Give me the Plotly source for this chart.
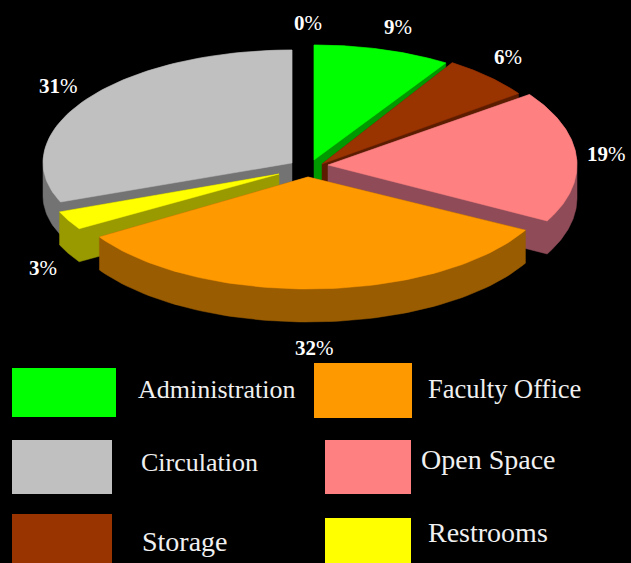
import numpy as np
import plotly.graph_objects as go

# Space-use shares, clockwise from twelve o'clock
categories = ["Administration", "Storage", "Open Space", "Faculty Office", "Restrooms", "Circulation"]
shares = [9, 6, 19, 32, 3, 31]

# Printed percentage labels, including the empty category at the top
label_texts = ["0", "9", "6", "19", "32", "3", "31"]
label_anchor = [(308, 23), (398, 27), (508, 57), (606, 154), (314, 348), (43, 268), (58, 86)]

# Face colour and wall colour per category
face = {"Administration": "#00ff00", "Storage": "#993300", "Open Space": "#ff8080",
        "Faculty Office": "#ff9900", "Restrooms": "#ffff00", "Circulation": "#c0c0c0"}
wall = {"Administration": "#009900", "Storage": "#5c1c00", "Open Space": "#8f4c58",
        "Faculty Office": "#995c00", "Restrooms": "#999900", "Circulation": "#737373"}

# Exploded slice placement: hub x, hub y, radius x, radius y far side, radius y near side
placement = {"Administration": (314, 160, 246, 115, 115),
             "Storage": (322, 164, 243, 120, 115),
             "Open Space": (328, 165, 249, 120, 118),
             "Faculty Office": (308, 177, 247, 120, 112),
             "Restrooms": (279, 174, 236, 118, 103),
             "Circulation": (292, 163, 249, 113, 106)}
WALL_DEPTH = 33
NEAR_SIDE_SQUEEZE = 4.5  # degrees of foreshortening on the near right quadrant of the disc
DRAW_ORDER = ["Circulation", "Administration", "Storage", "Open Space", "Restrooms", "Faculty Office"]

# Legend layout: x0, y0, x1, y1, text x, text y, font size
legend_box = {"Administration": (12, 368, 116, 417, 136, 389, 26),
              "Faculty Office": (314, 363, 412, 418, 426, 389, 26.5),
              "Circulation": (12, 440, 112, 494, 139, 462, 26),
              "Open Space": (325, 440, 411, 494, 419, 459, 28),
              "Storage": (12, 514, 112, 570, 140, 541, 28),
              "Restrooms": (325, 518, 411, 570, 426, 532, 28)}


def wedge_outline(name, start_pct, end_pct):
    """Polygon of one slice's top face, from its percentage span."""
    hx, hy, rx, ry_far, ry_near = placement[name]
    theta = np.linspace(start_pct, end_pct, 80) * 3.6
    rad = np.radians(theta)
    near_right = (theta > 90) & (theta < 180)
    warped = theta - np.where(near_right, NEAR_SIDE_SQUEEZE * np.sin(2 * (rad - np.pi / 2)), 0)
    wrad = np.radians(warped)
    cos_part = np.cos(wrad)
    ry = np.where(cos_part >= 0, ry_far, ry_near)
    xs = np.concatenate([[hx], hx + rx * np.sin(wrad), [hx]])
    ys = np.concatenate([[hy], hy - ry * cos_part, [hy]])
    return xs, ys


def convex_hull(points):
    """Monotone-chain hull, returned as a closed ring."""
    pts = sorted(set(points))

    def half(seq):
        chain = []
        for p in seq:
            while len(chain) >= 2 and ((chain[-1][0] - chain[-2][0]) * (p[1] - chain[-2][1])
                                       - (chain[-1][1] - chain[-2][1]) * (p[0] - chain[-2][0])) <= 0:
                chain.pop()
            chain.append(p)
        return chain[:-1]

    ring = half(pts) + half(pts[::-1])
    return ring + ring[:1]


def wall_silhouette(xs, ys):
    """A slice is convex, so its extruded body is the hull of the top and bottom outlines."""
    pts = [(float(x), float(y)) for x, y in zip(xs, ys)]
    pts += [(x, y + WALL_DEPTH) for x, y in pts]
    ring = convex_hull(pts)
    return [p[0] for p in ring], [p[1] for p in ring]


edges = np.concatenate([[0], np.cumsum(shares)])
span = {c: (edges[i], edges[i + 1]) for i, c in enumerate(categories)}

fig = go.Figure()
for name in DRAW_ORDER:
    xs, ys = wedge_outline(name, *span[name])
    hx, hy = wall_silhouette(xs, ys)
    fig.add_trace(go.Scatter(x=hx, y=hy, mode="lines", fill="toself", fillcolor=wall[name],
                             line=dict(color=wall[name], width=0.5), hoverinfo="skip", showlegend=False))
    fig.add_trace(go.Scatter(x=xs, y=ys, mode="lines", fill="toself", fillcolor=face[name],
                             line=dict(color=face[name], width=0.5), name=name, showlegend=False))

annotations = []
for txt, (ax, ay) in zip(label_texts, label_anchor):
    annotations.append(dict(x=ax, y=ay, xref="x", yref="y", text=f"<b>{txt}</b>%", showarrow=False,
                            font=dict(family="Liberation Serif", size=21, color="white")))

shapes = []
for name, (x0, y0, x1, y1, tx, ty, fs) in legend_box.items():
    shapes.append(dict(type="rect", x0=x0, y0=y0, x1=x1, y1=y1, xref="x", yref="y",
                       fillcolor=face[name], line=dict(width=0), layer="below"))
    annotations.append(dict(x=tx, y=ty, xref="x", yref="y", text=name, showarrow=False, xanchor="left",
                            font=dict(family="Liberation Serif", size=fs, color="#f0f0f0")))

fig.update_layout(
    width=631, height=563, autosize=False,
    margin=dict(l=0, r=0, t=0, b=0),
    paper_bgcolor="black", plot_bgcolor="black",
    xaxis=dict(range=[0, 631], visible=False, fixedrange=True),
    yaxis=dict(range=[563, 0], visible=False, fixedrange=True),
    shapes=shapes, annotations=annotations, showlegend=False,
)
fig.write_html("out.html", config={"displayModeBar": False})
